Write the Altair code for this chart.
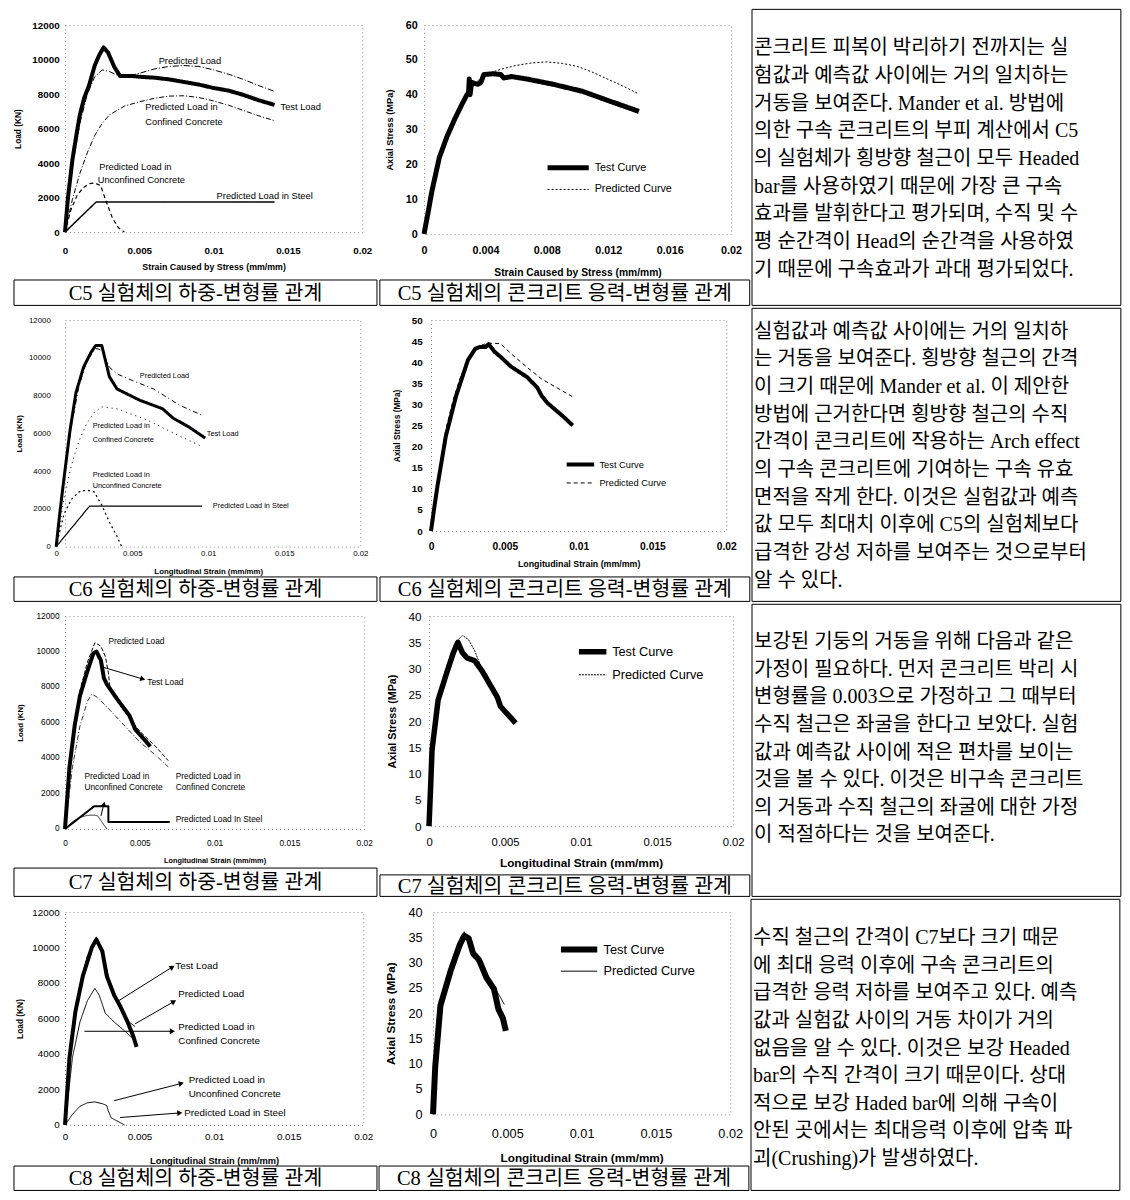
import math
import altair as alt
import pandas as pd

# ---------------------------------------------------------------- text
CAPTIONS_LOAD = [
    "C5 실험체의 하중-변형률 관계",
    "C6 실험체의 하중-변형률 관계",
    "C7 실험체의 하중-변형률 관계",
    "C8 실험체의 하중-변형률 관계",
]
CAPTIONS_STRESS = [
    "C5 실험체의 콘크리트 응력-변형률 관계",
    "C6 실험체의 콘크리트 응력-변형률 관계",
    "C7 실험체의 콘크리트 응력-변형률 관계",
    "C8 실험체의 콘크리트 응력-변형률 관계",
]
TEXT_ROWS = [
    ["\u2002콘크리트 피복이 박리하기 전까지는 실",
     "험값과 예측값 사이에는 거의 일치하는",
     "거동을 보여준다. Mander et al. 방법에",
     "의한 구속 콘크리트의 부피 계산에서 C5",
     "의 실험체가 횡방향 철근이 모두 Headed",
     "bar를 사용하였기 때문에 가장 큰 구속",
     "효과를 발휘한다고 평가되며, 수직 및 수",
     "평 순간격이 Head의 순간격을 사용하였",
     "기 때문에 구속효과가 과대 평가되었다."],
    ["\u2002실험값과 예측값 사이에는 거의 일치하",
     "는 거동을 보여준다. 횡방향 철근의 간격",
     "이 크기 때문에 Mander et al. 이 제안한",
     "방법에 근거한다면 횡방향 철근의 수직",
     "간격이 콘크리트에 작용하는 Arch effect",
     "의 구속 콘크리트에 기여하는 구속 유효",
     "면적을 작게 한다. 이것은 실험값과 예측",
     "값 모두 최대치 이후에 C5의 실험체보다",
     "급격한 강성 저하를 보여주는 것으로부터",
     "알 수 있다."],
    ["\u2002보강된 기둥의 거동을 위해 다음과 같은",
     "가정이 필요하다. 먼저 콘크리트 박리 시",
     "변형률을 0.003으로 가정하고 그 때부터",
     "수직 철근은 좌굴을 한다고 보았다. 실험",
     "값과 예측값 사이에 적은 편차를 보이는",
     "것을 볼 수 있다. 이것은 비구속 콘크리트",
     "의 거동과 수직 철근의 좌굴에 대한 가정",
     "이 적절하다는 것을 보여준다."],
    ["\u2002수직 철근의 간격이 C7보다 크기 때문",
     "에 최대 응력 이후에 구속 콘크리트의",
     "급격한 응력 저하를 보여주고 있다. 예측",
     "값과 실험값 사이의 거동 차이가 거의",
     "없음을 알 수 있다. 이것은 보강 Headed",
     "bar의 수직 간격이 크기 때문이다. 상대",
     "적으로 보강 Haded bar에 의해 구속이",
     "안된 곳에서는 최대응력 이후에 압축 파",
     "괴(Crushing)가 발생하였다."],
]

# ---------------------------------------------------------------- tick values
LOAD_X_TICKS = [0, 0.005, 0.01, 0.015, 0.02]
LOAD_Y_TICKS = [0, 2000, 4000, 6000, 8000, 10000, 12000]
C5_STRESS_X_TICKS = [0, 0.004, 0.008, 0.012, 0.016, 0.02]
C5_STRESS_Y_TICKS = [0, 10, 20, 30, 40, 50, 60]
C6_STRESS_Y_TICKS = [0, 5, 10, 15, 20, 25, 30, 35, 40, 45, 50]
C78_STRESS_Y_TICKS = [0, 5, 10, 15, 20, 25, 30, 35, 40]

# ---------------------------------------------------------------- C5 load (strain, kN)
C5_LOAD_TEST = [(0, 0), (0.0002, 2000), (0.0005, 4200), (0.0008, 5800), (0.001, 6800), (0.0013, 7800),
                (0.0016, 8450), (0.002, 9650), (0.0023, 10250), (0.0026, 10700), (0.0029, 10400),
                (0.0033, 9600), (0.0037, 9050), (0.0045, 9050), (0.005, 9000), (0.006, 8950),
                (0.007, 8850), (0.008, 8700), (0.009, 8550), (0.010, 8350), (0.011, 8200),
                (0.012, 7950), (0.013, 7650), (0.0141, 7370)]
C5_LOAD_PRED = [(0, 0), (0.0005, 3800), (0.001, 6300), (0.0015, 8000), (0.002, 9000), (0.0025, 9400),
                (0.003, 9300), (0.0035, 9100), (0.004, 9000), (0.005, 9200), (0.006, 9450),
                (0.007, 9600), (0.008, 9650), (0.009, 9600), (0.010, 9400), (0.011, 9150),
                (0.012, 8850), (0.013, 8500), (0.0141, 8150)]
C5_LOAD_CONF = [(0, 0), (0.0005, 1900), (0.001, 3400), (0.0015, 4600), (0.002, 5600), (0.0025, 6300),
                (0.003, 6800), (0.004, 7300), (0.005, 7550), (0.006, 7750), (0.007, 7880),
                (0.008, 7900), (0.009, 7800), (0.010, 7600), (0.011, 7350), (0.012, 7050),
                (0.013, 6750), (0.0141, 6450)]
C5_LOAD_UNCONF = [(0, 0), (0.0004, 1300), (0.0008, 2100), (0.0012, 2550), (0.0016, 2800), (0.002, 2850),
                  (0.0024, 2700), (0.0028, 1700), (0.0032, 800), (0.0036, 250), (0.004, 0)]
C5_LOAD_STEEL = [(0, 0), (0.0021, 1750), (0.0141, 1750)]
C5_LOAD_LABELS = [("Predicted Load", 0.0063, 9900), ("Test Load", 0.0145, 7250),
                  ("Predicted Load in", 0.0054, 7250), ("Confined Concrete", 0.0054, 6400),
                  ("Predicted Load in", 0.0023, 3750), ("Unconfined Concrete", 0.0022, 3000),
                  ("Predicted Load in Steel", 0.0102, 2100)]

# ---------------------------------------------------------------- C5 stress (strain, MPa)
C5_STRESS_TEST = [(0, 0), (0.0003, 7), (0.0005, 12), (0.001, 22), (0.0015, 28), (0.002, 33),
                  (0.0025, 37.5), (0.0028, 40), (0.0029, 40.5), (0.00295, 44.5), (0.003, 40),
                  (0.0031, 43.5), (0.0035, 43), (0.0037, 43.5), (0.0039, 45.8), (0.0045, 46),
                  (0.005, 45.8), (0.0052, 44.8), (0.0057, 45.2), (0.0067, 44.5), (0.0084, 43),
                  (0.0103, 41), (0.012, 38.3), (0.014, 35.2)]
C5_STRESS_PRED = [(0, 0), (0.0005, 12.5), (0.001, 22), (0.0015, 28.5), (0.002, 33.5), (0.0025, 38),
                  (0.003, 41.5), (0.0035, 44), (0.004, 45.8), (0.005, 47.3), (0.006, 48.4),
                  (0.007, 49.1), (0.008, 49.4), (0.009, 49.0), (0.010, 48.1), (0.011, 46.4),
                  (0.012, 44.4), (0.013, 42.4), (0.014, 40.2)]

# ---------------------------------------------------------------- C6 load
C6_LOAD_TEST = [(0, 0), (0.0002, 1500), (0.00045, 3200), (0.0009, 6100), (0.0013, 8150), (0.0018, 9500),
                (0.0023, 10300), (0.0026, 10650), (0.003, 10650), (0.0035, 9000), (0.004, 8350),
                (0.0055, 7750), (0.007, 7300), (0.0077, 6800), (0.0087, 6350), (0.0098, 5750)]
C6_LOAD_PRED = [(0, 0), (0.0005, 3500), (0.001, 6400), (0.0015, 8500), (0.002, 9800), (0.0026, 10500),
                (0.003, 10400), (0.0035, 9500), (0.004, 9150), (0.005, 8800), (0.0064, 8350),
                (0.0081, 7500), (0.0096, 6950)]
C6_LOAD_CONF = [(0, 0), (0.0005, 2500), (0.001, 4300), (0.0015, 5600), (0.002, 6500), (0.0025, 7100),
                (0.003, 7400), (0.004, 7300), (0.005, 7000), (0.006, 6700), (0.007, 6300),
                (0.008, 5900), (0.0096, 5300)]
C6_LOAD_UNCONF = [(0, 0), (0.0005, 1700), (0.001, 2500), (0.0015, 2900), (0.002, 3000), (0.0025, 2900),
                  (0.003, 2200), (0.0035, 1300), (0.004, 550), (0.0043, 0)]
C6_LOAD_STEEL = [(0, 0), (0.0022, 2150), (0.0096, 2150)]
C6_LOAD_LABELS = [("Predicted Load", 0.0055, 9050), ("Test Load", 0.0099, 5950),
                  ("Predicted Load in", 0.0024, 6400), ("Confined Concrete", 0.0024, 5650),
                  ("Predicted Load in", 0.0024, 3800), ("Unconfined Concrete", 0.0024, 3200),
                  ("Predicted Load in Steel", 0.0103, 2150)]

# ---------------------------------------------------------------- C6 stress
C6_STRESS_TEST = [(0, 0), (0.0002, 5), (0.00044, 10.7), (0.001, 22.4), (0.0017, 32), (0.0025, 40.5),
                  (0.003, 43.2), (0.0033, 43.6), (0.0037, 43.6), (0.0039, 44.3), (0.0043, 42.5),
                  (0.0048, 41), (0.0054, 39), (0.0065, 36.5), (0.0072, 34), (0.0075, 32),
                  (0.0079, 30.3), (0.0085, 28.5), (0.009, 27), (0.0096, 25)]
C6_STRESS_PRED = [(0, 0), (0.0005, 13), (0.001, 24), (0.0015, 31), (0.002, 36.5), (0.0025, 40.5),
                  (0.003, 43), (0.0035, 44.2), (0.004, 44.5), (0.0047, 44.4), (0.0055, 41.8),
                  (0.0065, 38.8), (0.0075, 36), (0.0085, 34), (0.0096, 31.8)]

# ---------------------------------------------------------------- C7 load
C7_LOAD_TEST = [(0, 0), (0.0003, 3500), (0.00065, 5850), (0.001, 7500), (0.0015, 8900), (0.0019, 9900),
                (0.0021, 10000), (0.0024, 9500), (0.0026, 8500), (0.0028, 8150), (0.0035, 7300),
                (0.0043, 6400), (0.0047, 5600), (0.0054, 4950), (0.0057, 4650)]
C7_LOAD_PRED = [(0, 0), (0.0005, 5000), (0.001, 7800), (0.0015, 9400), (0.002, 10500), (0.0024, 10300),
                (0.0027, 9700), (0.0029, 8800), (0.003, 8000), (0.0035, 7200), (0.004, 6600),
                (0.005, 5500), (0.006, 4700), (0.0069, 3850)]
C7_LOAD_CONF = [(0, 0), (0.0005, 3500), (0.001, 5800), (0.0015, 7200), (0.0018, 7600), (0.0022, 7400),
                (0.003, 6700), (0.004, 5800), (0.005, 4900), (0.006, 4200), (0.0069, 3500)]
C7_LOAD_UNCONF = [(0, 0), (0.0005, 400), (0.001, 650), (0.0015, 770), (0.002, 780), (0.0022, 730),
                  (0.0025, 350), (0.0028, 0)]
C7_LOAD_STEEL = [(0, 0), (0.00195, 1280), (0.0029, 1280), (0.0029, 400), (0.0070, 400)]
C7_LOAD_LABELS = [("Predicted Load", 0.0029, 10550), ("Test Load", 0.0055, 8250),
                  ("Predicted Load in", 0.0013, 2950), ("Unconfined Concrete", 0.0013, 2300),
                  ("Predicted Load in", 0.0074, 2950), ("Confined Concrete", 0.0074, 2300),
                  ("Predicted Load In Steel", 0.0074, 520)]
C7_LOAD_ARROWS = [(0.0024, 9150, 0.0052, 8450), (0.0024, 730, 0.0026, 1400)]

# ---------------------------------------------------------------- C7 stress
C7_STRESS_TEST = [(0, 0), (0.0001, 7), (0.0002, 14.5), (0.0006, 24), (0.0012, 29.5), (0.0016, 33),
                  (0.0019, 35), (0.0022, 33), (0.0025, 32), (0.003, 31.5), (0.0035, 29.5),
                  (0.004, 27), (0.0045, 24.5), (0.0047, 22.8), (0.0051, 21.5), (0.0057, 19.6)]
C7_STRESS_PRED = [(0, 0), (0.0002, 14.5), (0.0006, 24.5), (0.0012, 30.5), (0.0017, 34.8), (0.0022, 36.3),
                  (0.0026, 35.5), (0.003, 33.4), (0.0035, 29.8), (0.004, 27.2), (0.0045, 24.5),
                  (0.005, 22), (0.0057, 19.8)]

# ---------------------------------------------------------------- C8 load
C8_LOAD_TEST = [(0, 0), (0.0003, 3800), (0.0007, 6400), (0.0012, 8400), (0.0018, 10000), (0.0021, 10450),
                (0.0025, 9800), (0.0028, 8400), (0.0033, 7300), (0.0037, 6700), (0.0042, 5800),
                (0.0046, 4950), (0.0048, 4400)]
C8_LOAD_PRED = [(0, 0), (0.0005, 5300), (0.001, 7900), (0.0015, 9500), (0.0021, 10600), (0.0025, 9900),
                (0.003, 8000), (0.0035, 6900), (0.004, 6100), (0.0043, 5800), (0.0047, 5550)]
C8_LOAD_CONF = [(0, 0), (0.0005, 3800), (0.001, 5800), (0.0015, 7000), (0.002, 7700), (0.0023, 7300),
                (0.0027, 6300), (0.0033, 5800), (0.004, 5300), (0.0047, 4750)]
C8_LOAD_UNCONF = [(0, 0), (0.0005, 600), (0.001, 1050), (0.0015, 1250), (0.002, 1300), (0.0025, 1200),
                  (0.0028, 1100), (0.0029, 800), (0.0031, 400), (0.004, 0)]
C8_LOAD_LABELS = [("Test Load", 0.0074, 8950), ("Predicted Load", 0.0076, 7370),
                  ("Predicted Load in", 0.0076, 5530), ("Confined Concrete", 0.0076, 4760),
                  ("Predicted Load in", 0.0083, 2530), ("Unconfined Concrete", 0.0083, 1740),
                  ("Predicted Load in Steel", 0.0080, 680)]
C8_LOAD_ARROWS = [(0.0035, 6950, 0.0072, 8900), (0.0047, 5700, 0.0073, 6950),
                  (0.0013, 5280, 0.0072, 5280), (0.0033, 1370, 0.0078, 2340),
                  (0.0037, 420, 0.0077, 680)]

# ---------------------------------------------------------------- C8 stress
C8_STRESS_TEST = [(0, 0), (0.00015, 9.4), (0.0005, 21.5), (0.0012, 28.5), (0.0018, 33.5), (0.0021, 35.3),
                  (0.0024, 34.8), (0.0027, 31.8), (0.0031, 30.5), (0.0036, 27), (0.0041, 24.8),
                  (0.0044, 20.8), (0.0047, 19), (0.0049, 16.5)]
C8_STRESS_PRED = [(0, 0), (0.00015, 9), (0.0005, 21.8), (0.0012, 29), (0.0018, 34), (0.0021, 36.1),
                  (0.0025, 33.5), (0.003, 30), (0.0034, 28.2), (0.0037, 26.6), (0.0042, 24.8),
                  (0.0046, 22.8), (0.0048, 21.7)]

STRESS_NAMES = ["Test Curve", "Predicted Curve"]

# ---------------------------------------------------------------- helpers
FONT = "Liberation Sans"
FONT_KR = "Liberation Serif, Noto Sans CJK KR"
ONE = pd.DataFrame({"k": [0]})
PLOT_VIEW = alt.ViewBackground(stroke="#8a8a8a", strokeWidth=1, strokeDash=[1, 3])
TEXT_VIEW = alt.ViewBackground(strokeWidth=0)
NUMFMT = ".6~g"
CAPTION_FS = 20.5
BODY_FS = 20

# geometry is given in reference-picture pixels and scaled to fit the page
SX, SY, SF = 0.981, 0.977, 0.98
HKEYS = ["L", "W", "CW", "ylp", "ytx", "lgx", "capX0", "lglen", "x0"]
VKEYS = ["T", "H", "RH", "xlp", "xty", "lgy", "lgclip", "lgrow", "capTop"]
FKEYS = ["xlfs", "xtfs", "ylfs", "ytfs", "afs", "lgfs"]


def scaled(c):
    o = dict(c)
    for k in HKEYS:
        if k in o:
            o[k] = o[k] * SX
    for k in VKEYS:
        if k in o:
            o[k] = o[k] * SY
    for k in FKEYS:
        if k in o:
            o[k] = o[k] * SF
    return o


def pts_df(pairs, name="s"):
    return pd.DataFrame({"i": list(range(len(pairs))),
                         "x": [p[0] for p in pairs],
                         "y": [p[1] for p in pairs],
                         "series": name})


def cell_frame(c, caption):
    L, T, CW, RH = c["L"], c["T"], c["CW"], c["RH"]
    b = alt.Chart(ONE)
    out = [b.mark_rule(color="white", strokeWidth=1).encode(
        x=alt.value(xv), y=alt.value(-T), y2=alt.value(RH - T)) for xv in (-L, CW - L)]
    out.append(b.mark_rect(fillOpacity=0, stroke="black", strokeWidth=1).encode(
        x=alt.value(c["capX0"] - L), x2=alt.value(CW - L),
        y=alt.value(c["capTop"] - T), y2=alt.value(RH - T)))
    out.append(b.mark_text(font=FONT_KR, fontSize=CAPTION_FS, color="black",
                           align="center", baseline="middle").encode(
        x=alt.value((c["capX0"] + CW) / 2 - L),
        y=alt.value((c["capTop"] + RH) / 2 - T + 1),
        text=alt.value(caption)))
    return out


def x_axis(c, values, title):
    return alt.Axis(values=values, format=NUMFMT, grid=False, domain=False, ticks=False, tickSize=0,
                    labelFlush=False, labelOverlap=False, labelPadding=c["xlp"],
                    labelBaseline="middle", labelFont=FONT, labelFontSize=c["xlfs"],
                    labelFontWeight=c["lw"], labelColor="black",
                    title=title, titleFont=FONT, titleFontSize=c["xtfs"], titleFontWeight="bold",
                    titleColor="black", titleY=c["xty"], titleBaseline="middle")


def y_axis(c, values, title):
    return alt.Axis(values=values, format=NUMFMT, grid=False, domain=False, ticks=False, tickSize=0,
                    labelOverlap=False, labelPadding=c["ylp"], labelFont=FONT,
                    labelFontSize=c["ylfs"], labelFontWeight=c["lw"], labelColor="black",
                    title=title, titleFont=FONT, titleFontSize=c["ytfs"], titleFontWeight="bold",
                    titleColor="black", titleX=c["ytx"] - c["L"], titleY=c["H"] / 2,
                    titleAngle=270, titleBaseline="middle", titleAlign="center")


def load_chart(c, caption, series, styles, labels, arrows=None):
    x0 = c.get("x0", 0)
    xs = alt.Scale(domain=[0, 0.02], nice=False, zero=False, range=[x0, c["W"]])
    ys = alt.Scale(domain=[0, 12000], nice=False)
    xa = x_axis(c, LOAD_X_TICKS, c["xtitle"])
    ya = y_axis(c, LOAD_Y_TICKS, "Load (KN)")
    X = alt.X("x:Q", scale=xs, axis=xa)
    Y = alt.Y("y:Q", scale=ys, axis=ya)
    layers = cell_frame(c, caption)
    for pairs, (dash, w) in zip(series, styles):
        layers.append(alt.Chart(pts_df(pairs)).mark_line(
            color="black", strokeWidth=w, strokeDash=dash, strokeJoin="round").encode(
            x=X, y=Y, order="i:Q"))
    lab = pd.DataFrame({"t": [l[0] for l in labels], "x": [l[1] for l in labels],
                        "y": [l[2] for l in labels]})
    layers.append(alt.Chart(lab).mark_text(align="left", baseline="middle", font=FONT,
                                           fontSize=c["afs"], color="black").encode(
        x=X, y=Y, text="t:N"))
    if arrows:
        ang = []
        for (x1, y1, x2, y2) in arrows:
            dxp = (x2 - x1) / 0.02 * (c["W"] - x0)
            dyp = -(y2 - y1) / 12000 * c["H"]
            ang.append(math.degrees(math.atan2(dyp, dxp)) % 360)
        adf = pd.DataFrame({"x": [a[0] for a in arrows], "y": [a[1] for a in arrows],
                            "x2": [a[2] for a in arrows], "y2": [a[3] for a in arrows],
                            "ang": ang})
        layers.append(alt.Chart(adf).mark_rule(color="black", strokeWidth=1).encode(
            x=X, y=Y, x2="x2:Q", y2="y2:Q"))
        layers.append(alt.Chart(adf).mark_point(shape="triangle-right", filled=True,
                                                color="black", opacity=1, size=35).encode(
            x=alt.X("x2:Q", scale=xs, axis=xa), y=alt.Y("y2:Q", scale=ys, axis=ya),
            angle=alt.Angle("ang:Q", scale=None)))
    return alt.layer(*layers).properties(width=c["W"], height=c["H"], view=PLOT_VIEW)


def stress_chart(c, caption, test, pred, xticks, yticks):
    xs = alt.Scale(domain=[0, 0.02], nice=False, zero=False)
    ys = alt.Scale(domain=[0, yticks[-1]], nice=False)
    X = alt.X("x:Q", scale=xs, axis=x_axis(c, xticks, c["xtitle"]))
    Y = alt.Y("y:Q", scale=ys, axis=y_axis(c, yticks, "Axial Stress (MPa)"))
    df = pd.concat([pts_df(test, STRESS_NAMES[0]), pts_df(pred, STRESS_NAMES[1])],
                   ignore_index=True)
    leg = alt.Legend(orient="none", legendX=c["lgx"], legendY=c["lgy"], symbolType="stroke",
                     symbolSize=c["lglen"] ** 2, clipHeight=c["lgclip"], rowPadding=c["lgrow"],
                     labelFont=FONT, labelFontSize=c["lgfs"], labelColor="black", labelOffset=3,
                     symbolStrokeColor="black", padding=0)
    lines = alt.Chart(df).mark_line(color="black", strokeJoin="round").encode(
        x=X, y=Y, order="i:Q",
        strokeDash=alt.StrokeDash("series:N", title=None, legend=leg,
                                  scale=alt.Scale(domain=STRESS_NAMES, range=[[1, 0], c["pdash"]])),
        strokeWidth=alt.StrokeWidth("series:O", title=None, legend=leg,
                                    scale=alt.Scale(type="point", domain=STRESS_NAMES,
                                                    range=c["widths"], padding=0)))
    layers = cell_frame(c, caption) + [lines]
    return alt.layer(*layers).properties(width=c["W"], height=c["H"], view=PLOT_VIEW)


def text_cell(lines, CW, T, RH, y0, step, fs):
    Hp = RH - T
    d0 = -(y0 - T) / step
    d1 = d0 + Hp / step
    df = pd.DataFrame({"k": list(range(len(lines))), "t": lines})
    border = alt.Chart(ONE).mark_rect(fillOpacity=0, stroke="black", strokeWidth=1).encode(
        x=alt.value(0), x2=alt.value(CW), y=alt.value(-T), y2=alt.value(Hp))
    txt = alt.Chart(df).mark_text(align="left", baseline="middle", font=FONT_KR, fontSize=fs,
                                  color="black").encode(
        x=alt.value(2),
        y=alt.Y("k:Q", scale=alt.Scale(domain=[d0, d1], reverse=True, nice=False, zero=False),
                axis=None),
        text="t:N")
    return alt.layer(border, txt).properties(width=CW, height=Hp, view=TEXT_VIEW)


# ---------------------------------------------------------------- layout (reference pixels)
CW1, CW2, CW3 = 375, 377, 376
ROWS = [(303, 16), (300, 12), (299, 12), (298, 13)]   # row height, plot top
CAP_TOP_LOAD = [277, 275, 270, 273]
CAP_TOP_STRESS = [277, 275, 277, 273]
TEXT_Y0 = [(40, 28.3), (24, 28.3), (39, 28.2), (40, 28.2)]

XT_STRAIN = "Strain Caused by Stress (mm/mm)"
XT_LONG = "Longitudinal Strain (mm/mm)"

cfg_load = [
    dict(L=57, W=303, H=212, xlp=19, xlfs=10, xtfs=9, xty=35, ylp=6, ylfs=10, ytfs=8.5, ytx=10,
         lw="bold", afs=9.5, xtitle=XT_STRAIN),
    dict(L=57, W=301, x0=-9, H=232, xlp=7, xlfs=8, xtfs=8, xty=25, ylp=15, ylfs=8, ytfs=8, ytx=11,
         lw="normal", afs=7.5, xtitle=XT_LONG),
    dict(L=57, W=305, H=218, xlp=15, xlfs=8.5, xtfs=7.5, xty=32, ylp=6, ylfs=8.5, ytfs=8, ytx=12,
         lw="normal", afs=8.5, xtitle=XT_LONG),
    dict(L=57, W=304, H=218, xlp=12, xlfs=10, xtfs=9.5, xty=36, ylp=6, ylfs=10, ytfs=8.5, ytx=12,
         lw="normal", afs=10, xtitle=XT_LONG),
]
cfg_stress = [
    dict(L=45, W=313, H=214, xlp=17, xlfs=11, xtfs=10.5, xty=39, ylp=7, ylfs=11, ytfs=9.5, ytx=10,
         lw="bold", xtitle=XT_STRAIN, lgx=123, lgy=139, lglen=42, lgclip=14, lgrow=8, lgfs=11,
         pdash=[2, 2], widths=[5, 1]),
    dict(L=52, W=301, H=216, xlp=16, xlfs=10.5, xtfs=9, xty=33, ylp=9, ylfs=10, ytfs=8.5, ytx=18,
         lw="bold", xtitle=XT_LONG, lgx=136, lgy=142, lglen=28, lgclip=12, lgrow=6.5, lgfs=9.5,
         pdash=[4, 3], widths=[4, 1]),
    dict(L=50, W=310, H=215, xlp=17, xlfs=11.5, xtfs=12, xty=37, ylp=8, ylfs=12, ytfs=11, ytx=13,
         lw="normal", xtitle=XT_LONG, lgx=150, lgy=29, lglen=28, lgclip=15, lgrow=8.3, lgfs=13,
         pdash=[2, 1], widths=[5.5, 1]),
    dict(L=55, W=303, H=207, xlp=20, xlfs=13, xtfs=12, xty=44, ylp=11, ylfs=13, ytfs=12, ytx=12,
         lw="normal", xtitle=XT_LONG, lgx=127, lgy=31, lglen=37, lgclip=15, lgrow=6.7, lgfs=13,
         pdash=[1, 0], widths=[6, 1]),
]

for i, (rh, t) in enumerate(ROWS):
    cfg_load[i].update(T=t, RH=rh, CW=CW1, capTop=CAP_TOP_LOAD[i], capX0=5)
    cfg_stress[i].update(T=t, RH=rh, CW=CW2, capTop=CAP_TOP_STRESS[i], capX0=0)

S_SOLID = [1, 0]
load_specs = [
    ([C5_LOAD_TEST, C5_LOAD_PRED, C5_LOAD_CONF, C5_LOAD_UNCONF, C5_LOAD_STEEL],
     [(S_SOLID, 4), ([6, 2, 1, 2], 1), ([5, 2, 1, 2], 1), ([4, 3], 1.2), (S_SOLID, 1.5)],
     C5_LOAD_LABELS, None),
    ([C6_LOAD_TEST, C6_LOAD_PRED, C6_LOAD_CONF, C6_LOAD_UNCONF, C6_LOAD_STEEL],
     [(S_SOLID, 3), ([5, 3, 1, 3], 1), ([1, 4], 1), ([2, 3], 1.2), (S_SOLID, 1.2)],
     C6_LOAD_LABELS, None),
    ([C7_LOAD_TEST, C7_LOAD_PRED, C7_LOAD_CONF, C7_LOAD_UNCONF, C7_LOAD_STEEL],
     [(S_SOLID, 4), ([4, 2], 1), ([5, 2, 1, 2], 0.8), (S_SOLID, 0.8), (S_SOLID, 2)],
     C7_LOAD_LABELS, C7_LOAD_ARROWS),
    ([C8_LOAD_TEST, C8_LOAD_PRED, C8_LOAD_CONF, C8_LOAD_UNCONF],
     [(S_SOLID, 4), (S_SOLID, 1), (S_SOLID, 1), (S_SOLID, 1)],
     C8_LOAD_LABELS, C8_LOAD_ARROWS),
]
stress_specs = [
    (C5_STRESS_TEST, C5_STRESS_PRED, C5_STRESS_X_TICKS, C5_STRESS_Y_TICKS),
    (C6_STRESS_TEST, C6_STRESS_PRED, LOAD_X_TICKS, C6_STRESS_Y_TICKS),
    (C7_STRESS_TEST, C7_STRESS_PRED, LOAD_X_TICKS, C78_STRESS_Y_TICKS),
    (C8_STRESS_TEST, C8_STRESS_PRED, LOAD_X_TICKS, C78_STRESS_Y_TICKS),
]

INDEP = dict(strokeDash="independent", strokeWidth="independent")
rows = []
for i, (rh, t) in enumerate(ROWS):
    s, st, lab, arr = load_specs[i]
    lc = load_chart(scaled(cfg_load[i]), CAPTIONS_LOAD[i], s, st, lab, arr)
    te, pr, xt, yt = stress_specs[i]
    sc = stress_chart(scaled(cfg_stress[i]), CAPTIONS_STRESS[i], te, pr, xt, yt)
    y0, step = TEXT_Y0[i]
    tc = text_cell(TEXT_ROWS[i], CW3 * SX, t * SY, rh * SY, y0 * SY, step * SY, BODY_FS)
    rows.append(alt.hconcat(lc, sc, tc, spacing=0)
                .resolve_scale(**INDEP).resolve_legend(**INDEP))

chart = (alt.vconcat(*rows, spacing=0)
         .resolve_scale(**INDEP).resolve_legend(**INDEP)
         .properties(padding=0, background="white")
         .configure_view(strokeWidth=0))

chart.save("out.html", embed_options={"renderer": "svg", "actions": False})
